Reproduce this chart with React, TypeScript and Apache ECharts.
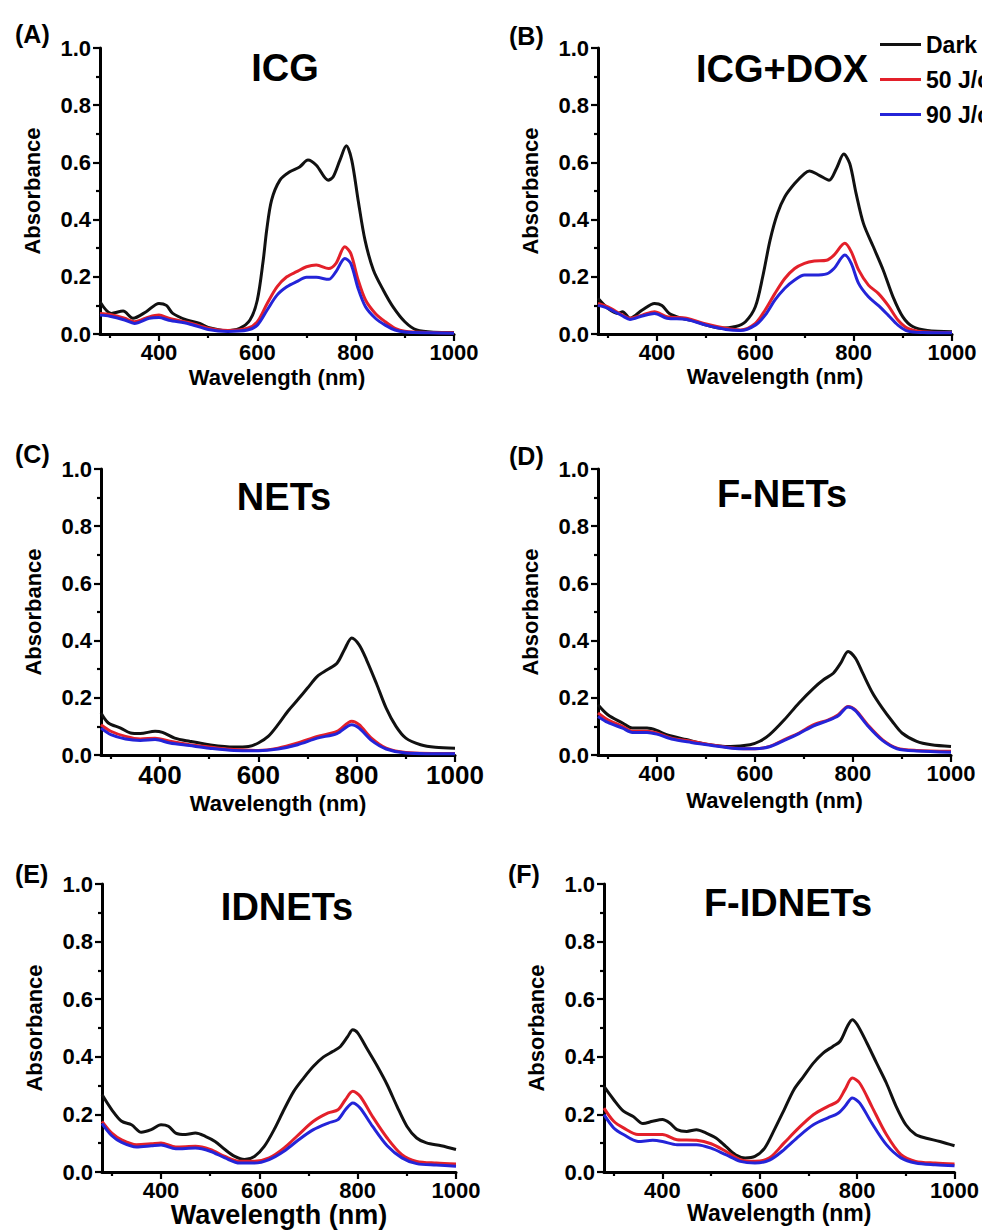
import React, { useEffect, useRef } from 'react';
import * as echarts from 'echarts';

// ---------------- DATA ----------------
const SERIES_NAMES = ['Dark', '50 J/cm²', '90 J/cm²'];
const X_TICK_LABELS = [400, 600, 800, 1000];
const X_MINOR_TICKS = [300, 500, 700, 900];

// (A) ICG
const wlA_dark = [280, 303, 327, 347, 374, 400, 415, 428, 456, 483, 500, 537, 564, 585, 600, 612, 619, 629, 646, 666, 686, 703, 720, 744, 754, 768, 781, 792, 805, 819, 836, 856, 876, 900, 924, 958, 1000];
const A_dark = [0.113, 0.072, 0.08, 0.055, 0.078, 0.107, 0.1, 0.072, 0.049, 0.037, 0.023, 0.012, 0.02, 0.049, 0.119, 0.258, 0.363, 0.468, 0.538, 0.567, 0.584, 0.608, 0.59, 0.538, 0.549, 0.608, 0.658, 0.608, 0.468, 0.328, 0.224, 0.154, 0.095, 0.043, 0.014, 0.006, 0.005];
const wlA_irr = [280, 300, 330, 350, 380, 400, 420, 460, 500, 540, 580, 600, 620, 640, 660, 680, 700, 720, 745, 760, 778, 790, 805, 820, 840, 860, 880, 900, 950, 1000];
const A_50 = [0.072, 0.068, 0.055, 0.043, 0.06, 0.066, 0.055, 0.04, 0.02, 0.012, 0.02, 0.043, 0.107, 0.165, 0.2, 0.218, 0.235, 0.241, 0.229, 0.247, 0.305, 0.282, 0.189, 0.119, 0.072, 0.043, 0.02, 0.01, 0.005, 0.004];
const A_90 = [0.066, 0.062, 0.049, 0.037, 0.055, 0.058, 0.048, 0.036, 0.016, 0.009, 0.014, 0.031, 0.084, 0.136, 0.165, 0.183, 0.198, 0.198, 0.191, 0.218, 0.264, 0.247, 0.159, 0.095, 0.055, 0.031, 0.014, 0.007, 0.004, 0.003];

// (B) ICG+DOX
const wlB_dark = [280, 300, 320, 330, 345, 370, 395, 410, 425, 450, 480, 500, 530, 560, 580, 600, 615, 630, 645, 660, 680, 700, 710, 730, 750, 765, 780, 792, 805, 820, 840, 860, 880, 900, 920, 950, 1000];
const B_dark = [0.125, 0.09, 0.072, 0.078, 0.055, 0.084, 0.107, 0.1, 0.072, 0.055, 0.043, 0.031, 0.02, 0.026, 0.043, 0.095, 0.2, 0.328, 0.421, 0.48, 0.526, 0.561, 0.57, 0.555, 0.538, 0.579, 0.629, 0.596, 0.491, 0.386, 0.305, 0.224, 0.13, 0.06, 0.026, 0.012, 0.008];
const wlB_irr = [280, 300, 330, 345, 370, 395, 420, 460, 500, 540, 570, 600, 620, 640, 660, 680, 700, 720, 745, 760, 782, 795, 810, 830, 850, 870, 890, 910, 940, 1000];
const B_50 = [0.107, 0.095, 0.066, 0.055, 0.066, 0.078, 0.06, 0.055, 0.035, 0.02, 0.014, 0.037, 0.084, 0.142, 0.194, 0.229, 0.247, 0.255, 0.258, 0.276, 0.317, 0.288, 0.224, 0.171, 0.142, 0.1, 0.049, 0.02, 0.008, 0.005];
const B_90 = [0.1, 0.09, 0.063, 0.051, 0.063, 0.072, 0.055, 0.051, 0.031, 0.016, 0.012, 0.031, 0.066, 0.119, 0.16, 0.189, 0.206, 0.206, 0.21, 0.229, 0.276, 0.247, 0.177, 0.13, 0.1, 0.066, 0.031, 0.01, 0.005, 0.004];

// (C) NETs
const wlC_dark = [280, 295, 320, 340, 360, 390, 405, 430, 460, 500, 550, 580, 600, 620, 640, 660, 680, 700, 720, 740, 760, 775, 790, 805, 820, 840, 860, 880, 900, 930, 960, 1000];
const C_dark = [0.147, 0.112, 0.094, 0.077, 0.075, 0.083, 0.079, 0.059, 0.048, 0.036, 0.028, 0.03, 0.042, 0.065, 0.106, 0.153, 0.193, 0.234, 0.275, 0.298, 0.321, 0.368, 0.409, 0.385, 0.333, 0.251, 0.164, 0.1, 0.059, 0.036, 0.027, 0.024];
const wlC_irr = [280, 300, 330, 360, 390, 420, 460, 500, 550, 600, 640, 680, 720, 760, 790, 805, 830, 860, 900, 1000];
const C_50 = [0.106, 0.083, 0.065, 0.056, 0.059, 0.048, 0.036, 0.028, 0.019, 0.016, 0.024, 0.042, 0.065, 0.083, 0.118, 0.106, 0.059, 0.024, 0.009, 0.005];
const C_90 = [0.094, 0.071, 0.056, 0.051, 0.054, 0.042, 0.033, 0.024, 0.016, 0.015, 0.021, 0.036, 0.059, 0.075, 0.106, 0.094, 0.051, 0.021, 0.007, 0.004];

// (D) F-NETs
const wlD_dark = [280, 300, 330, 350, 380, 400, 420, 460, 500, 550, 590, 610, 630, 660, 690, 720, 740, 760, 775, 790, 805, 820, 840, 860, 880, 900, 930, 960, 1000];
const D_dark = [0.176, 0.141, 0.112, 0.094, 0.094, 0.086, 0.071, 0.054, 0.038, 0.03, 0.036, 0.048, 0.071, 0.123, 0.182, 0.234, 0.263, 0.286, 0.321, 0.362, 0.339, 0.286, 0.217, 0.164, 0.118, 0.077, 0.048, 0.036, 0.03];
const wlD_irr = [280, 300, 330, 350, 380, 400, 430, 470, 510, 560, 600, 630, 660, 690, 720, 750, 770, 790, 805, 830, 860, 890, 930, 1000];
const D_50 = [0.147, 0.123, 0.1, 0.083, 0.083, 0.077, 0.059, 0.048, 0.036, 0.024, 0.022, 0.03, 0.054, 0.077, 0.106, 0.123, 0.141, 0.17, 0.158, 0.106, 0.054, 0.024, 0.016, 0.013];
const D_90 = [0.135, 0.114, 0.094, 0.079, 0.079, 0.073, 0.056, 0.044, 0.034, 0.023, 0.022, 0.029, 0.051, 0.075, 0.102, 0.121, 0.137, 0.168, 0.155, 0.102, 0.051, 0.022, 0.014, 0.01];

// (E) IDNETs
const wlE_dark = [280, 300, 320, 340, 360, 380, 400, 415, 430, 450, 470, 490, 510, 530, 550, 570, 590, 610, 630, 650, 670, 690, 710, 730, 750, 765, 780, 790, 800, 820, 840, 860, 880, 900, 920, 940, 970, 1000];
const E_dark = [0.269, 0.216, 0.176, 0.164, 0.138, 0.147, 0.164, 0.159, 0.135, 0.13, 0.135, 0.124, 0.106, 0.078, 0.054, 0.043, 0.054, 0.089, 0.147, 0.216, 0.28, 0.326, 0.367, 0.399, 0.419, 0.436, 0.471, 0.494, 0.483, 0.425, 0.367, 0.303, 0.228, 0.159, 0.118, 0.101, 0.091, 0.078];
const wlE_irr = [280, 300, 320, 350, 380, 400, 430, 470, 500, 530, 560, 590, 620, 650, 680, 710, 740, 760, 775, 790, 805, 830, 860, 890, 920, 960, 1000];
const E_50 = [0.176, 0.135, 0.112, 0.095, 0.098, 0.101, 0.087, 0.089, 0.078, 0.054, 0.037, 0.037, 0.049, 0.083, 0.13, 0.176, 0.205, 0.216, 0.251, 0.28, 0.263, 0.193, 0.118, 0.06, 0.037, 0.031, 0.028];
const E_90 = [0.168, 0.126, 0.103, 0.087, 0.091, 0.094, 0.081, 0.083, 0.072, 0.049, 0.031, 0.031, 0.043, 0.072, 0.112, 0.147, 0.17, 0.182, 0.216, 0.24, 0.222, 0.159, 0.091, 0.049, 0.029, 0.024, 0.02];

// (F) F-IDNETs
const wlF_dark = [280, 300, 320, 340, 360, 380, 400, 415, 430, 450, 470, 490, 510, 530, 550, 570, 590, 610, 630, 650, 670, 690, 710, 730, 750, 765, 780, 790, 800, 820, 840, 860, 880, 900, 920, 940, 970, 1000];
const F_dark = [0.297, 0.251, 0.211, 0.193, 0.168, 0.176, 0.182, 0.17, 0.147, 0.141, 0.147, 0.135, 0.118, 0.089, 0.06, 0.049, 0.054, 0.083, 0.147, 0.216, 0.286, 0.332, 0.378, 0.413, 0.436, 0.454, 0.506, 0.529, 0.512, 0.448, 0.378, 0.309, 0.228, 0.164, 0.13, 0.118, 0.106, 0.091];
const wlF_irr = [280, 300, 320, 350, 380, 400, 430, 470, 500, 530, 560, 590, 620, 650, 680, 710, 740, 760, 775, 790, 805, 830, 860, 890, 920, 960, 1000];
const F_50 = [0.222, 0.176, 0.153, 0.13, 0.13, 0.13, 0.112, 0.11, 0.098, 0.072, 0.043, 0.037, 0.049, 0.101, 0.153, 0.199, 0.228, 0.245, 0.286, 0.326, 0.309, 0.228, 0.13, 0.06, 0.037, 0.031, 0.028];
const F_90 = [0.199, 0.153, 0.13, 0.106, 0.11, 0.106, 0.095, 0.095, 0.083, 0.06, 0.037, 0.031, 0.041, 0.078, 0.124, 0.164, 0.188, 0.203, 0.228, 0.257, 0.24, 0.17, 0.095, 0.049, 0.031, 0.025, 0.022];

const PANEL_LABELS = ['(A)', '(B)', '(C)', '(D)', '(E)', '(F)'];
const PANEL_TITLES = ['ICG', 'ICG+DOX', 'NETs', 'F-NETs', 'IDNETs', 'F-IDNETs'];
const PANEL_WL = [
  [wlA_dark, wlA_irr, wlA_irr],
  [wlB_dark, wlB_irr, wlB_irr],
  [wlC_dark, wlC_irr, wlC_irr],
  [wlD_dark, wlD_irr, wlD_irr],
  [wlE_dark, wlE_irr, wlE_irr],
  [wlF_dark, wlF_irr, wlF_irr],
];
const PANEL_VALUES = [
  [A_dark, A_50, A_90],
  [B_dark, B_50, B_90],
  [C_dark, C_50, C_90],
  [D_dark, D_50, D_90],
  [E_dark, E_50, E_90],
  [F_dark, F_50, F_90],
];

// ---------------- LAYOUT / STYLE ----------------
const FONT = '"Liberation Sans", Arial, Helvetica, sans-serif';
const COLORS = ['#111111', '#e3202a', '#2424d8'];

const LAYOUT = [
  { left: 100, top: 48, width: 354, height: 286, lx: 15, ly: 34, tx: 285, ty: 68, xTick: 22, xName: 22, xNameGap: 32 },
  { left: 598, top: 48, width: 354, height: 286, lx: 509, ly: 36, tx: 782, ty: 69, xTick: 22, xName: 22, xNameGap: 31 },
  { left: 101, top: 469, width: 354, height: 286, lx: 15, ly: 454, tx: 284, ty: 497, xTick: 26, xName: 22, xNameGap: 37 },
  { left: 598, top: 469, width: 353, height: 286, lx: 509, ly: 456, tx: 782, ty: 494, xTick: 22, xName: 22, xNameGap: 34 },
  { left: 102, top: 884, width: 354, height: 288, lx: 15, ly: 874, tx: 287, ty: 907, xTick: 22, xName: 27, xNameGap: 28 },
  { left: 604, top: 884, width: 353, height: 288, lx: 508, ly: 874, tx: 788, ty: 903, xTick: 22, xName: 23, xNameGap: 28 },
];

function buildOption() {
  const grid: any[] = [];
  const xAxis: any[] = [];
  const yAxis: any[] = [];
  const series: any[] = [];
  const graphic: any[] = [];
  const lineStyle = { color: '#000', width: 3 };
  const tickStyle = { color: '#000', width: 2.2 };

  LAYOUT.forEach((L, i) => {
    grid.push({ left: L.left, top: L.top, width: L.width, height: L.height });
    xAxis.push({
      type: 'value', gridIndex: i, position: 'bottom', min: 280, max: 1000,
      axisLine: { show: true, lineStyle },
      axisTick: { show: true, customValues: X_TICK_LABELS, length: 7, lineStyle: tickStyle },
      axisLabel: {
        show: true, customValues: X_TICK_LABELS, margin: 7,
        formatter: (v: number) => String(Math.round(v)),
        fontSize: L.xTick, fontWeight: 'bold', color: '#000', fontFamily: FONT,
      },
      splitLine: { show: false },
      name: 'Wavelength (nm)', nameLocation: 'middle', nameGap: L.xNameGap,
      nameTextStyle: { fontSize: L.xName, fontWeight: 'bold', color: '#000', fontFamily: FONT },
    });
    xAxis.push({
      type: 'value', gridIndex: i, position: 'bottom', min: 280, max: 1000,
      axisLine: { show: false },
      axisTick: { show: true, customValues: X_MINOR_TICKS, length: 4, lineStyle: tickStyle },
      axisLabel: { show: false },
      splitLine: { show: false },
    });
    yAxis.push({
      type: 'value', gridIndex: i, min: 0, max: 1, interval: 0.2,
      axisLine: { show: true, lineStyle },
      axisTick: { show: true, length: 7, lineStyle: tickStyle },
      minorTick: { show: true, splitNumber: 2, length: 4, lineStyle: tickStyle },
      axisLabel: {
        formatter: (v: number) => v.toFixed(1), margin: 9,
        fontSize: 22, fontWeight: 'bold', color: '#000', fontFamily: FONT,
      },
      splitLine: { show: false },
      minorSplitLine: { show: false },
      name: 'Absorbance', nameLocation: 'middle', nameGap: 57, nameRotate: 90,
      nameTextStyle: { fontSize: 22, fontWeight: 'bold', color: '#000', fontFamily: FONT },
    });
    for (let s = 0; s < 3; s++) {
      const wl = PANEL_WL[i][s];
      const vals = PANEL_VALUES[i][s];
      series.push({
        type: 'line', name: SERIES_NAMES[s], xAxisIndex: 2 * i, yAxisIndex: i,
        data: wl.map((w, k) => [w, vals[k]]),
        symbol: 'none', showSymbol: false, smooth: 0.3,
        lineStyle: { width: 3, color: COLORS[s] },
        itemStyle: { color: COLORS[s] },
        z: 2 + s,
      });
    }
    graphic.push({
      type: 'text', x: L.lx, y: L.ly,
      style: { text: PANEL_LABELS[i], fill: '#000', font: `bold 25px ${FONT}`, align: 'left', verticalAlign: 'middle' },
    });
    graphic.push({
      type: 'text', x: L.tx, y: L.ty,
      style: { text: PANEL_TITLES[i], fill: '#000', font: `bold 38px ${FONT}`, align: 'center', verticalAlign: 'middle' },
    });
  });

  return {
    animation: false,
    backgroundColor: '#ffffff',
    grid, xAxis, yAxis, series, graphic,
    legend: {
      data: SERIES_NAMES, orient: 'vertical', left: 880, top: 33, padding: 0,
      itemGap: 12, itemWidth: 41, itemHeight: 3, icon: 'rect', selectedMode: false,
      textStyle: { fontSize: 23, fontWeight: 'bold', color: '#000', fontFamily: FONT },
    },
  };
}

export default function App() {
  const ref = useRef<HTMLDivElement>(null);
  useEffect(() => {
    if (!ref.current) return;
    const chart = echarts.init(ref.current, undefined, { renderer: 'svg' });
    chart.setOption(buildOption());
    return () => chart.dispose();
  }, []);
  return (
    <div
      ref={ref}
      style={{ position: 'absolute', left: 0, top: 0, width: 982, height: 1231, background: '#fff', overflow: 'hidden' }}
    />
  );
}
